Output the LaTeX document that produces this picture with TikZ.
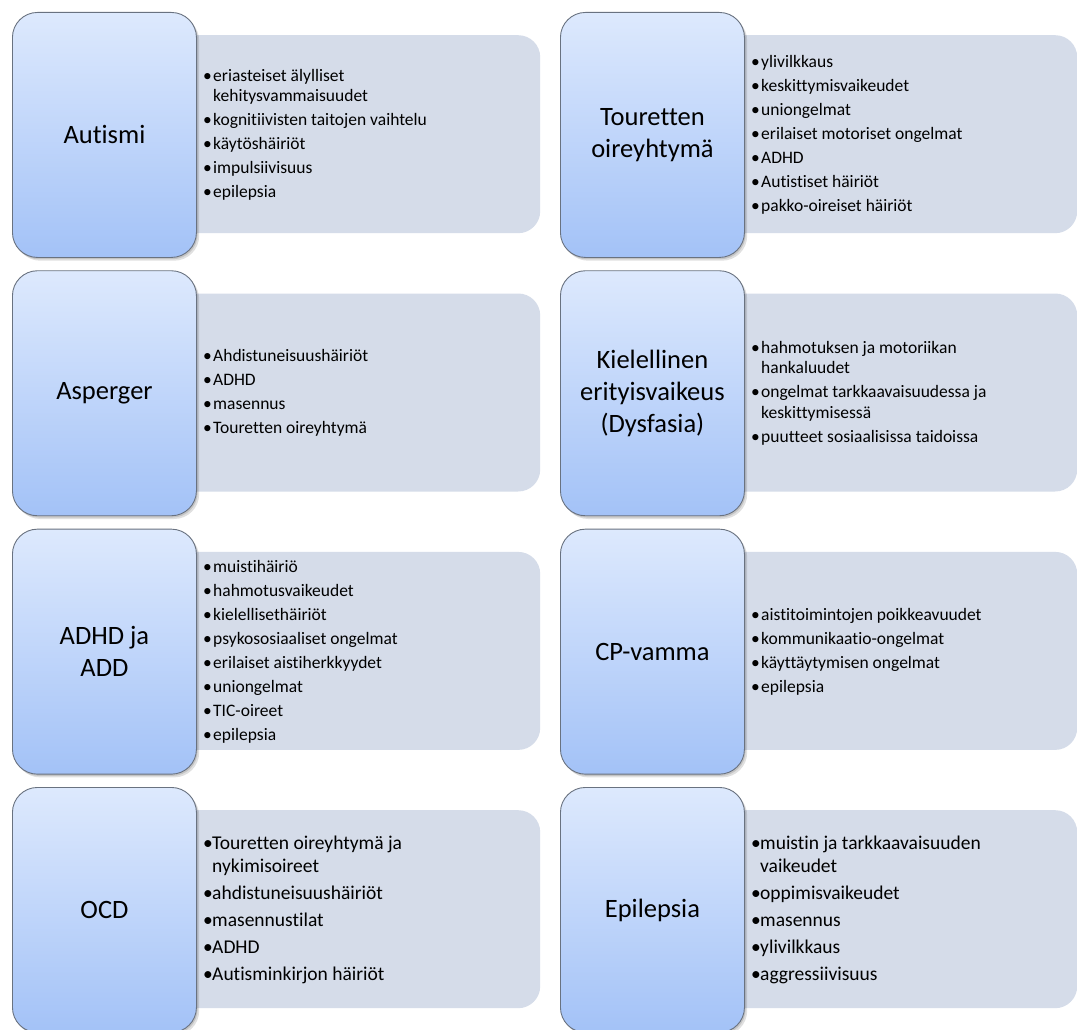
\documentclass[tikz,border=0pt]{standalone}
\usepackage{fontspec}
\setmainfont{Carlito}[RawFeature={-liga}]
\definecolor{greybox}{RGB}{213,220,233}
\definecolor{bluetop}{RGB}{221,233,253}
\definecolor{bluebot}{RGB}{163,194,247}
\definecolor{edgec}{RGB}{105,114,128}
\tikzset{
  catbox/.style={rounded corners=25pt, draw=edgec, line width=0.9pt, top color=bluetop, bottom color=bluebot,
    minimum width=184pt, minimum height=245pt, inner sep=0pt, align=center,
    font=\fontsize{26.5}{32}\selectfont, anchor=north west},
  shadowbox/.style={rounded corners=25pt, fill=black, opacity=0.12, minimum width=184pt, minimum height=245pt,
    inner sep=0pt, anchor=north west},
  listbox/.style={rounded corners=22pt, fill=greybox, anchor=north west, minimum height=198pt, inner sep=0pt},
  listtext/.style={anchor=west, align=left, inner sep=0pt, font=\fontsize{17.5}{20.5}\selectfont},
  listbig/.style={anchor=west, align=left, inner sep=0pt, font=\fontsize{19.5}{23.5}\selectfont},
}
\newcommand\itm[1]{\makebox[10pt][l]{•}#1}
\newcommand\cnt[1]{\hspace*{10pt}#1}
\newcommand\itb[1]{\makebox[9pt][l]{•}#1}
\newcommand\cnb[1]{\hspace*{9pt}#1}
\newcommand\pcell[7]{%
  \node[listbox, minimum width=#7pt] (#1-g) at ({#2+92},{#3+23}) {};
  \node[shadowbox] (#1-s1) at ({#2+1.5},{#3+2}) {};
  \node[shadowbox] (#1-s2) at ({#2+3},{#3+3.5}) {};
  \node[catbox] (#1-b) at (#2,#3) {#4};
  \node[#5] (#1-t) at ({#2+184+7},{#3+123}) {#6};
}
\begin{document}
\begin{tikzpicture}[x=1pt,y=-1pt]
\useasboundingbox[fill=white] (0,0) rectangle (1077,1030);
% row 1
\pcell{aut}{12}{12}{Autismi}{listtext}{%
  \itm{eriasteiset älylliset}\\ \cnt{kehitysvammaisuudet}\\[3.5pt]
  \itm{kognitiivisten taitojen vaihtelu}\\[3.5pt]
  \itm{käytöshäiriöt}\\[3.5pt]
  \itm{impulsiivisuus}\\[3.5pt]
  \itm{epilepsia}}{436}
\pcell{tou}{560}{12}{Touretten\\oireyhtymä}{listtext}{%
  \itm{ylivilkkaus}\\[3.5pt]
  \itm{keskittymisvaikeudet}\\[3.5pt]
  \itm{uniongelmat}\\[3.5pt]
  \itm{erilaiset motoriset ongelmat}\\[3.5pt]
  \itm{ADHD}\\[3.5pt]
  \itm{Autistiset häiriöt}\\[3.5pt]
  \itm{pakko-oireiset häiriöt}}{425}
% row 2
\pcell{asp}{12}{270.3}{Asperger}{listtext}{%
  \itm{Ahdistuneisuushäiriöt}\\[3.5pt]
  \itm{ADHD}\\[3.5pt]
  \itm{masennus}\\[3.5pt]
  \itm{Touretten oireyhtymä}}{436}
\pcell{kie}{560}{270.3}{Kielellinen\\erityisvaikeus\\(Dysfasia)}{listtext}{%
  \itm{hahmotuksen ja motoriikan}\\ \cnt{hankaluudet}\\[3.5pt]
  \itm{ongelmat tarkkaavaisuudessa ja}\\ \cnt{keskittymisessä}\\[3.5pt]
  \itm{puutteet sosiaalisissa taidoissa}}{425}
% row 3
\pcell{adh}{12}{528.7}{ADHD ja\\ADD}{listtext}{%
  \itm{muistihäiriö}\\[3.5pt]
  \itm{hahmotusvaikeudet}\\[3.5pt]
  \itm{kielellisethäiriöt}\\[3.5pt]
  \itm{psykososiaaliset ongelmat}\\[3.5pt]
  \itm{erilaiset aistiherkkyydet}\\[3.5pt]
  \itm{uniongelmat}\\[3.5pt]
  \itm{TIC-oireet}\\[3.5pt]
  \itm{epilepsia}}{436}
\pcell{cpv}{560}{528.7}{CP-vamma}{listtext}{%
  \itm{aistitoimintojen poikkeavuudet}\\[3.5pt]
  \itm{kommunikaatio-ongelmat}\\[3.5pt]
  \itm{käyttäytymisen ongelmat}\\[3.5pt]
  \itm{epilepsia}}{425}
% row 4
\pcell{ocd}{12}{787}{OCD}{listbig}{%
  \itb{Touretten oireyhtymä ja}\\ \cnb{nykimisoireet}\\[3.5pt]
  \itb{ahdistuneisuushäiriöt}\\[3.5pt]
  \itb{masennustilat}\\[3.5pt]
  \itb{ADHD}\\[3.5pt]
  \itb{Autisminkirjon häiriöt}}{436}
\pcell{epi}{560}{787}{Epilepsia}{listbig}{%
  \itb{muistin ja tarkkaavaisuuden}\\ \cnb{vaikeudet}\\[3.5pt]
  \itb{oppimisvaikeudet}\\[3.5pt]
  \itb{masennus}\\[3.5pt]
  \itb{ylivilkkaus}\\[3.5pt]
  \itb{aggressiivisuus}}{425}
\end{tikzpicture}
\end{document}
